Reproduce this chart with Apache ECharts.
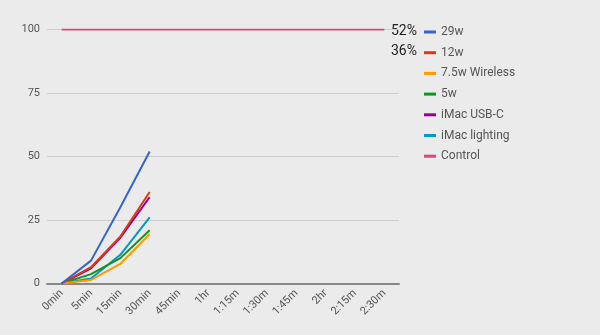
<!DOCTYPE html>
<html><head><meta charset="utf-8">
<script src="https://cdn.jsdelivr.net/npm/echarts@6/dist/echarts.min.js"></script>
<style>html,body{margin:0;padding:0;background:#ebebeb;}#c{width:600px;height:335px;}</style>
</head><body><div id="c"></div>
<script>
const categories = ['0min','5min','15min','30min','45min','1hr','1:15m','1:30m','1:45m','2hr','2:15m','2:30m'];
const yTicks = [0, 25, 50, 75, 100];
const s29w = [0, 9, 30, 52];
const s12w = [0, 6.4, 18.5, 36];
const s75wWireless = [0, 1.4, 7.7, 19.5];
const s5w = [0, 3.7, 10, 21];
const sImacUsbC = [0, 6, 18, 34];
const sImacLighting = [0, 2, 11.3, 26];
const sControl = [100,100,100,100,100,100,100,100,100,100,100,100];
const seriesNames = ['29w','12w','7.5w Wireless','5w','iMac USB-C','iMac lighting','Control'];
const seriesData = [s29w, s12w, s75wWireless, s5w, sImacUsbC, sImacLighting, sControl];
const colors = ['#3366cc','#dc3912','#ff9900','#109618','#990099','#0099c6','#dd4477'];
const annotations = ['52%','36%'];

const chart = echarts.init(document.getElementById('c'), null, {renderer:'canvas'});
chart.setOption({
  backgroundColor: '#ebebeb',
  animation: false,
  color: colors,
  textStyle: {fontFamily: 'Roboto'},
  grid: {left: 47, right: 201, top: 29.5, bottom: 51.5, containLabel: false},
  xAxis: {
    type: 'category', data: categories, boundaryGap: true,
    axisLine: {lineStyle: {color: '#888', width: 2}},
    axisTick: {show: false},
    axisLabel: {rotate: 45, color: '#555', fontSize: 11, margin: 8, interval: 0}
  },
  yAxis: {
    type: 'value', min: yTicks[0], max: yTicks[yTicks.length-1], interval: 25,
    axisLine: {show: false}, axisTick: {show: false},
    axisLabel: {color: '#555', fontSize: 11, margin: 7},
    splitLine: {lineStyle: {color: '#cccccc', width: 1}}
  },
  legend: {
    orient: 'vertical', left: 419, top: 20,
    icon: 'rect', itemWidth: 12, itemHeight: 3, itemGap: 6.7,
    textStyle: {color: '#555', fontSize: 12, lineHeight: 14, padding: [0,0,0,0]},
    data: seriesNames
  },
  series: seriesNames.map((n, i) => ({
    name: n, type: 'line', data: seriesData[i], symbol: 'none',
    lineStyle: {width: 2, color: colors[i]}, z: 10 - i
  })),
  graphic: annotations.map((t, i) => ({
    type: 'text', left: 391, top: 24 + i * 20.7,
    style: {text: t, fill: '#222', font: '14px Roboto'}
  }))
});
</script></body></html>
